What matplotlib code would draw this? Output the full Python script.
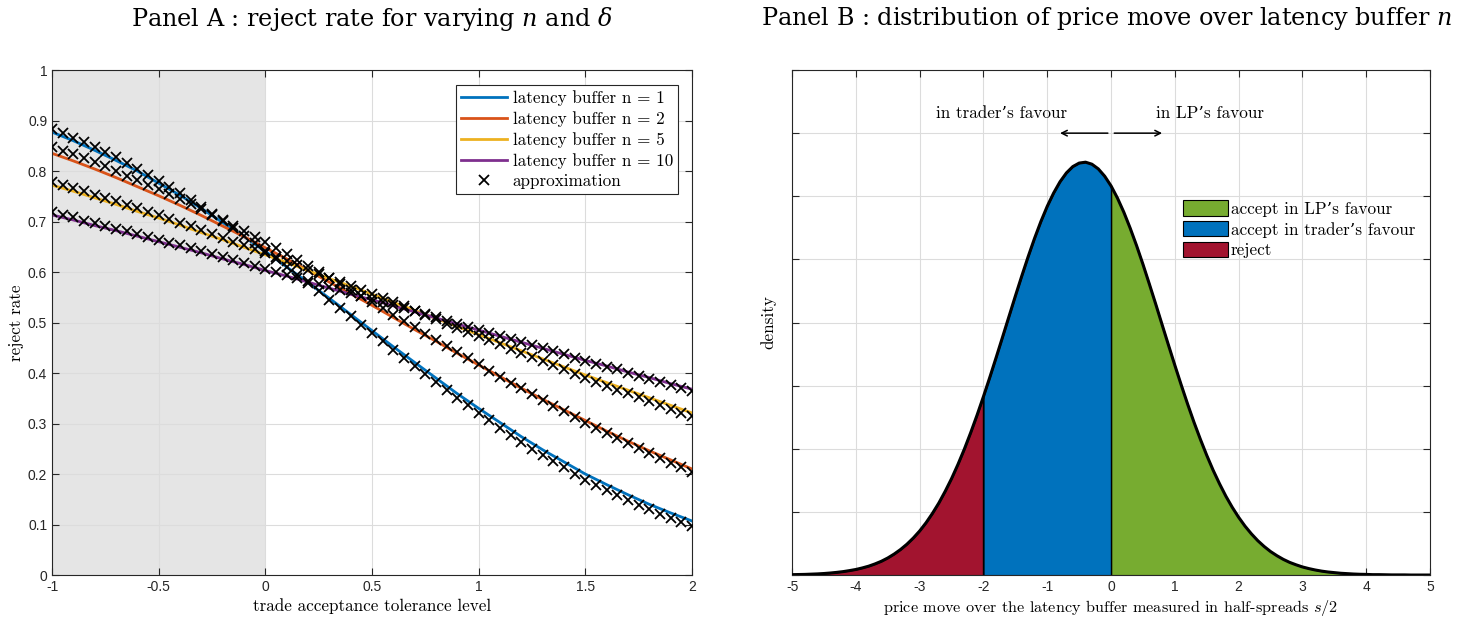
import matplotlib
matplotlib.use('Agg')
import matplotlib.pyplot as plt
from matplotlib.patches import Patch
from matplotlib.lines import Line2D
import numpy as np

# panel A: reject rate vs tolerance level, exact curves (step 0.1) and approximation (step 0.05)
delta_line = np.round(np.arange(-1, 2.0001, 0.1), 2)
delta_approx = np.round(np.arange(-1, 2.0001, 0.05), 2)
buffers = [1, 2, 5, 10]
reject_exact = {
    1: [877, 860, 841, 821, 800, 776, 752, 726, 698, 670, 641, 610, 579, 548, 516, 484,
        452, 421, 390, 359, 330, 302, 274, 248, 224, 200, 179, 159, 140, 123, 107],
    2: [835, 820, 804, 787, 769, 751, 732, 712, 691, 670, 648, 626, 603, 580, 557, 534,
        510, 486, 463, 439, 416, 393, 370, 348, 327, 306, 285, 265, 246, 228, 210],
    5: [772, 760, 747, 734, 720, 707, 693, 678, 664, 649, 634, 619, 603, 587, 572, 556,
        540, 524, 508, 492, 476, 460, 444, 428, 412, 396, 381, 366, 351, 336, 321],
    10: [713, 703, 692, 682, 671, 660, 649, 638, 626, 615, 603, 592, 580, 568, 556, 545,
         533, 521, 509, 497, 485, 473, 461, 449, 437, 425, 414, 402, 391, 379, 368],
}
reject_approx = {
    1: [883, 875, 866, 857, 847, 837, 827, 816, 805, 793, 781, 769, 756, 743, 729, 715,
        701, 687, 672, 657, 641, 626, 610, 594, 578, 562, 545, 529, 512, 496, 479, 463,
        446, 430, 414, 398, 382, 366, 351, 336, 321, 306, 292, 278, 264, 250, 237, 225,
        213, 201, 189, 178, 168, 158, 148, 139, 130, 121, 113, 105, 98],
    2: [848, 840, 833, 825, 817, 809, 800, 791, 782, 773, 764, 754, 744, 734, 724, 713,
        703, 692, 681, 670, 659, 647, 636, 624, 612, 600, 588, 576, 564, 552, 540, 528,
        515, 503, 491, 478, 466, 454, 441, 429, 417, 405, 393, 381, 370, 358, 347, 335,
        324, 313, 302, 292, 281, 271, 261, 251, 241, 231, 222, 213, 204],
    5: [779, 773, 766, 760, 753, 747, 740, 733, 726, 719, 712, 705, 698, 691, 683, 676,
        668, 660, 653, 645, 637, 629, 621, 613, 605, 597, 589, 581, 573, 565, 556, 548,
        540, 532, 523, 515, 507, 498, 490, 482, 473, 465, 457, 448, 440, 432, 424, 416,
        407, 399, 391, 383, 375, 367, 360, 352, 344, 336, 329, 321, 314],
    10: [718, 713, 708, 702, 697, 692, 686, 681, 675, 670, 664, 658, 653, 647, 641, 636,
         630, 624, 618, 612, 606, 601, 595, 589, 583, 577, 571, 565, 559, 552, 546, 540,
         534, 528, 522, 516, 510, 504, 497, 491, 485, 479, 473, 467, 461, 455, 449, 443,
         437, 430, 424, 418, 412, 407, 401, 395, 389, 383, 377, 371, 365],
}
line_colors = {1: '#0072BD', 2: '#D95319', 5: '#EDB120', 10: '#7E2F8E'}

# panel B: density of the price move (in half-spreads), step 0.1 on [-5, 5]
move = np.round(np.arange(-5, 5.0001, 0.1), 1)
density = [0.0003, 0.0004, 0.0005, 0.0007, 0.0009, 0.0012, 0.0016, 0.0021, 0.0027, 0.0035,
           0.0044, 0.0056, 0.0070, 0.0088, 0.0109, 0.0135, 0.0166, 0.0202, 0.0244, 0.0293,
           0.0349, 0.0414, 0.0488, 0.0570, 0.0663, 0.0764, 0.0876, 0.0997, 0.1128, 0.1267,
           0.1414, 0.1567, 0.1725, 0.1886, 0.2048, 0.2210, 0.2368, 0.2521, 0.2666, 0.2800,
           0.2921, 0.3026, 0.3115, 0.3185, 0.3235, 0.3263, 0.3270, 0.3254, 0.3217, 0.3159,
           0.3082, 0.2986, 0.2874, 0.2747, 0.2609, 0.2461, 0.2305, 0.2146, 0.1983, 0.1821,
           0.1661, 0.1505, 0.1354, 0.1210, 0.1075, 0.0948, 0.0830, 0.0723, 0.0624, 0.0536,
           0.0457, 0.0387, 0.0326, 0.0272, 0.0226, 0.0186, 0.0153, 0.0124, 0.0100, 0.0081,
           0.0064, 0.0051, 0.0040, 0.0031, 0.0024, 0.0019, 0.0014, 0.0011, 0.0008, 0.0006,
           0.0005, 0.0003, 0.0003, 0.0002, 0.0001, 0.0001, 0.0001, 0.0000, 0.0000, 0.0000,
           0.0000]
reject_bound = -2.0
region_colors = {'lp': '#77AC30', 'trader': '#0072BD', 'reject': '#A2142F'}

TEX = ['cmr10', 'DejaVu Serif']
TEXSIZE = 12.3
TICKFONT = 'Liberation Sans'
plt.rcParams['mathtext.fontset'] = 'cm'
plt.rcParams['axes.unicode_minus'] = False


def matlab_axes(ax):
    for s in ax.spines.values():
        s.set_color('#262626')
        s.set_linewidth(0.8)
    ax.tick_params(direction='in', top=True, right=True, length=5, width=0.8,
                   colors='#262626', labelsize=10)
    for lab in ax.get_xticklabels() + ax.get_yticklabels():
        lab.set_fontfamily(TICKFONT)
    ax.grid(True, color='#dcdcdc', linewidth=0.8)
    ax.set_axisbelow(True)


fig = plt.figure(figsize=(14.83, 6.23), dpi=100)
axA = fig.add_axes([0.0351, 0.0770, 0.4315, 0.8106])
axB = fig.add_axes([0.5341, 0.0770, 0.4302, 0.8106])

# ---- panel A
axA.axvspan(-1, 0, color='#e5e5e5', zorder=0.1, lw=0)
for n in buffers:
    axA.plot(delta_line, np.array(reject_exact[n]) / 1000, color=line_colors[n], lw=2, zorder=2)
for n in buffers:
    axA.plot(delta_approx, np.array(reject_approx[n]) / 1000, 'x', color='k', ms=7, mew=1.3, zorder=3)
axA.set_xlim(-1, 2)
axA.set_ylim(0, 1)
axA.set_xticks([-1, -0.5, 0, 0.5, 1, 1.5, 2])
axA.set_xticklabels(['-1', '-0.5', '0', '0.5', '1', '1.5', '2'])
axA.set_yticks(np.round(np.arange(0, 1.01, 0.1), 1))
axA.set_yticklabels(['0'] + ['%.1f' % v for v in np.arange(0.1, 0.95, 0.1)] + ['1'])
matlab_axes(axA)
axA.set_xlabel('trade acceptance tolerance level', family=TEX, fontsize=TEXSIZE, labelpad=3)
axA.set_ylabel('reject rate', family=TEX, fontsize=TEXSIZE, labelpad=3)

handles = [Line2D([], [], color=line_colors[n], lw=2) for n in buffers]
handles.append(Line2D([], [], ls='none', marker='x', color='k', ms=7, mew=1.3))
labels = ['latency buffer n = %d' % n for n in buffers] + ['approximation']
legA = axA.legend(handles, labels, loc='upper right', bbox_to_anchor=(0.978, 0.970),
                  borderaxespad=0, prop={'family': TEX, 'size': TEXSIZE}, handlelength=2.7,
                  handletextpad=0.3, labelspacing=0.3, fancybox=False, framealpha=1,
                  edgecolor='#262626', borderpad=0.3)
legA.get_frame().set_linewidth(0.8)

fig.text(0.251, 0.970, r'Panel A : reject rate for varying $n$ and $\delta$',
         ha='center', va='center', family='DejaVu Serif', fontsize=17.2, math_fontfamily='dejavuserif')

# ---- panel B
dens = np.array(density)
left = move <= reject_bound
mid = (move >= reject_bound) & (move <= 0)
right = move >= 0
axB.fill_between(move[left], 0, dens[left], facecolor=region_colors['reject'], edgecolor='k', lw=0.8, zorder=1)
axB.fill_between(move[mid], 0, dens[mid], facecolor=region_colors['trader'], edgecolor='k', lw=0.8, zorder=1)
axB.fill_between(move[right], 0, dens[right], facecolor=region_colors['lp'], edgecolor='k', lw=0.8, zorder=1)
axB.vlines([reject_bound, 0], 0, [dens[move == reject_bound][0], dens[move == 0][0]], color='k', lw=1, zorder=2)
axB.plot(move, dens, color='k', lw=2.2, zorder=3)
axB.set_xlim(-5, 5)
axB.set_ylim(0, 0.4)
axB.set_xticks(range(-5, 6))
axB.set_xticklabels([str(v) for v in range(-5, 6)])
axB.set_yticks(np.arange(0, 0.41, 0.05))
axB.set_yticklabels([])
matlab_axes(axB)
axB.set_xlabel('price move over the latency buffer measured in half-spreads $s/2$',
               family=TEX, fontsize=11.7, labelpad=3)
axB.set_ylabel('density', family=TEX, fontsize=TEXSIZE, labelpad=8)

axB.annotate('', xy=(-0.8, 0.350), xytext=(-0.05, 0.350),
             arrowprops=dict(arrowstyle='->', color='k', lw=1.1, shrinkA=0, shrinkB=0))
axB.annotate('', xy=(0.8, 0.350), xytext=(0.05, 0.350),
             arrowprops=dict(arrowstyle='->', color='k', lw=1.1, shrinkA=0, shrinkB=0))
axB.text(-0.69, 0.366, 'in trader\u2019s favour', ha='right', va='center', family=TEX, fontsize=TEXSIZE)
axB.text(0.70, 0.366, 'in LP\u2019s favour', ha='left', va='center', family=TEX, fontsize=TEXSIZE)

patches = [Patch(facecolor=region_colors[k], edgecolor='k', lw=0.8) for k in ['lp', 'trader', 'reject']]
axB.legend(patches, ['accept in LP\u2019s favour', 'accept in trader\u2019s favour', 'reject'],
           loc='upper left', bbox_to_anchor=(0.613, 0.742), borderaxespad=0, borderpad=0,
           frameon=False, prop={'family': TEX, 'size': TEXSIZE}, handlelength=2.6, handleheight=1.0,
           handletextpad=0.2, labelspacing=0.25)

fig.text(0.746, 0.970, 'Panel B : distribution of price move over latency buffer $n$',
         ha='center', va='center', family='DejaVu Serif', fontsize=17.2, math_fontfamily='dejavuserif')

fig.savefig('out.png', dpi=100)
